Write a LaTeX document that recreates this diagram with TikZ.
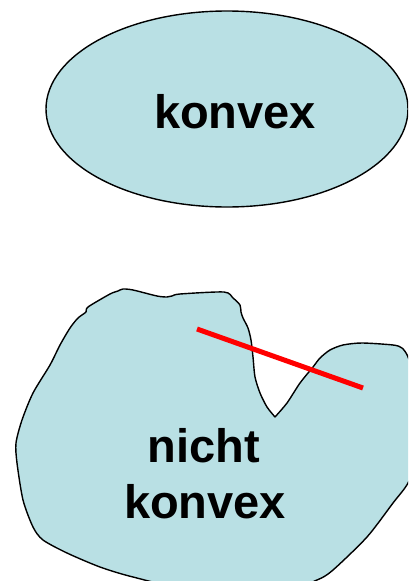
\documentclass[tikz,border=0pt]{standalone}
\usepackage{fontspec}
\setmainfont{Liberation Sans}
\definecolor{shapefill}{RGB}{185,224,228}
\begin{document}
\begin{tikzpicture}[x=1pt,y=-1pt,
  shapestyle/.style={fill=shapefill,draw=black,line width=1.4pt,line join=round},
  label/.style={font=\fontsize{47}{56}\selectfont\bfseries,inner sep=0pt,anchor=base},
  redline/.style={draw=red,line width=5pt}]
\useasboundingbox (0,0) rectangle (408,581);
\clip (0,0) rectangle (408,581);
% convex ellipse
\draw[shapestyle] (227,109) ellipse [x radius=181, y radius=98];
\node[label] (konvex) at (235,128) {konvex};
% non-convex blob
\draw[shapestyle] plot[smooth, tension=0.45] coordinates {
 (275,417) (287,403) (300,383) (313,367) (320,358) (330,350) (343,345) (362,343) (393,345) (402,348)
 (408,357) (414,380) (414,460) (408,483) (393,503) (367,537) (333,570)
 (317,580) (280,592) (200,592) (133,577) (100,567) (67,553) (43,540)
 (33,527) (23,500) (17,463) (16,443) (22,420) (33,393) (50,365)
 (60,345) (70,328) (78,318) (86,312) (88,307) (110,294) (118,291)
 (123,289) (133,290) (157,296) (167,297) (172,296) (180,294)
 (224,292) (233,298) (240,305) (241,312) (243,318) (248,328) (251,340)
 (253,357) (255,377) (260,393) (267,407) (275,417)} -- cycle;
\coordinate (redA) at (197,329);
\coordinate (redB) at (363,388);
\draw[redline] (redA) -- (redB);
\node[label] (nicht) at (204,462) {nicht};
\node[label] (konvex2) at (205,518) {konvex};
\end{tikzpicture}
\end{document}
